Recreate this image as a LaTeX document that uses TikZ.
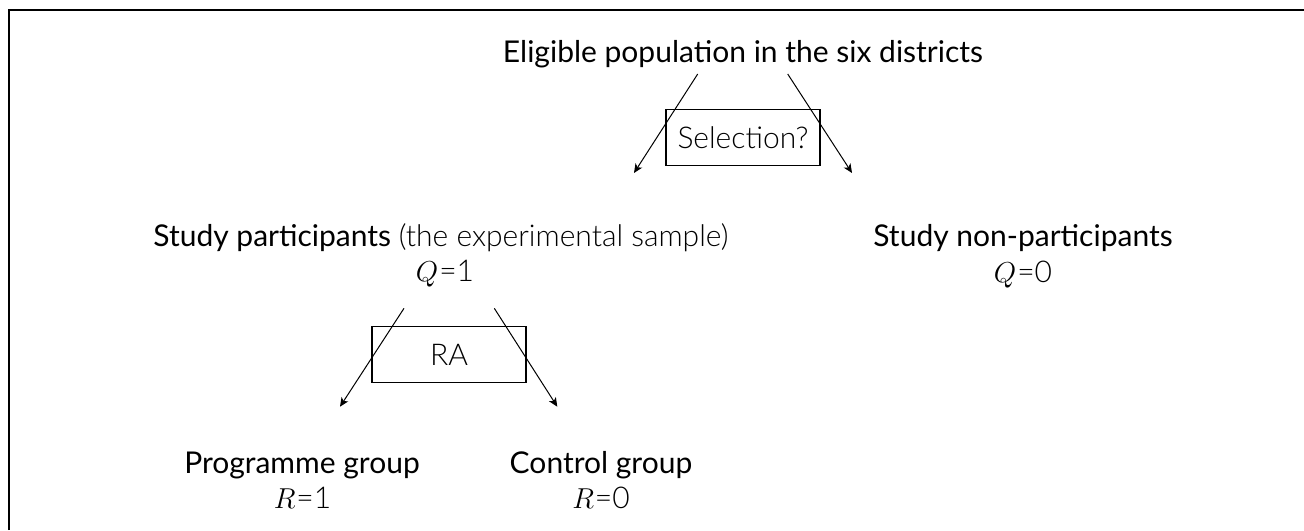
\documentclass[tikz,border=0pt]{standalone}
\usepackage{fontspec}
\setmainfont{Lato}
\newfontfamily\lightfont{Lato Light}
\usetikzlibrary{arrows.meta}
\newcommand{\varq}[2]{$#1$\kern0.5pt{\lightfont =#2}}
\begin{document}
\begin{tikzpicture}[x=0.5pt,y=-0.5pt,
  lbl/.style={anchor=base, inner sep=0pt, font=\fontsize{15}{18}\selectfont},
  boxnode/.style={draw, line width=0.6pt, minimum width=77pt, minimum height=28pt, inner sep=0pt, font=\fontsize{15}{18}\selectfont\lightfont},
  arr/.style={line width=0.5pt, -{Stealth[length=4.5pt,width=4pt,inset=1.2pt]}},
  frameline/.style={line width=1pt}]
\useasboundingbox (0,0) rectangle (1304,530);
\draw[frameline] (8.5,530) -- (8.5,9.5) -- (1304,9.5);

% top level
\node[lbl] (elig) at (743,62.5) {Eligible population in the six districts};
\node[boxnode] (sel) at (743,137.5) {Selection?};
\coordinate (e1s) at (697.7,74);
\coordinate (e1e) at (634,173);
\coordinate (e2s) at (787.7,74);
\coordinate (e2e) at (852,173);
\draw[arr] (e1s) -- (e1e);
\draw[arr] (e2s) -- (e2e);

% second level
\node[lbl, anchor=base west] (part) at (153,246.5) {Study participants {\lightfont (the experimental sample)}};
\node[lbl] (q1) at (445,281) {\varq{Q}{1}};
\node[lbl] (nonpart) at (1023,246.5) {Study non-participants};
\node[lbl] (q0) at (1023,282) {\varq{Q}{0}};

\node[boxnode] (ra) at (449,354.7) {RA};
\coordinate (r1s) at (404,308.3);
\coordinate (r1e) at (340,406.7);
\coordinate (r2s) at (494.3,308.3);
\coordinate (r2e) at (557.3,406.7);
\draw[arr] (r1s) -- (r1e);
\draw[arr] (r2s) -- (r2e);

% third level
\node[lbl] (prog) at (302,473.3) {Programme group};
\node[lbl] (r1) at (302.5,508.3) {\varq{R}{1}};
\node[lbl] (ctrl) at (601,473.3) {Control group};
\node[lbl] (r0) at (601,508.3) {\varq{R}{0}};
\end{tikzpicture}
\end{document}
